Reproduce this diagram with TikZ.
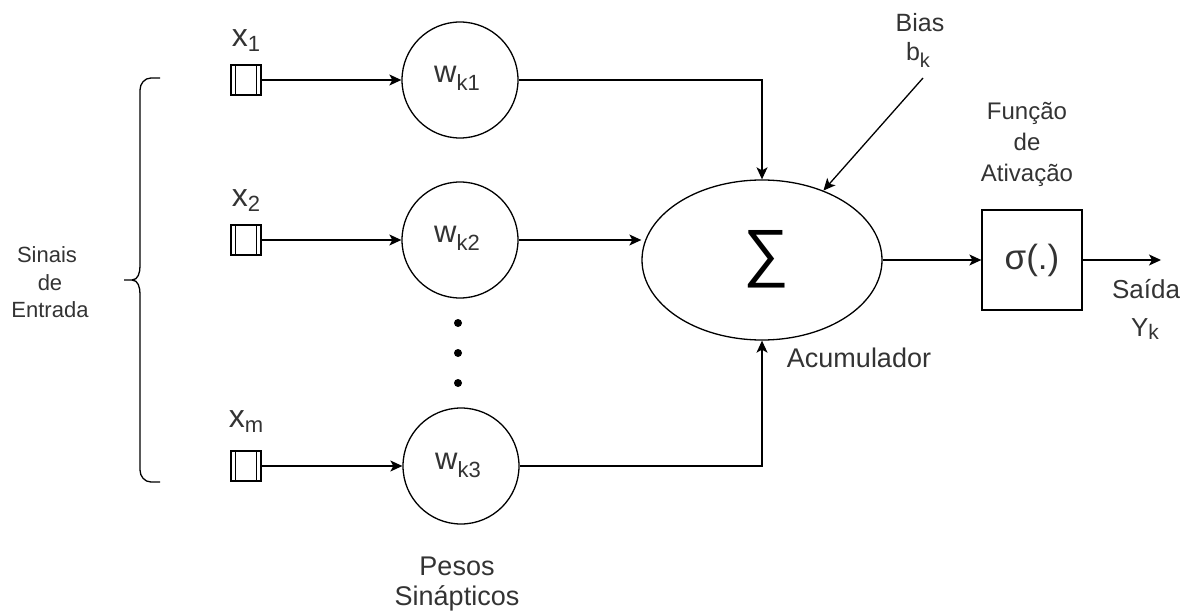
\documentclass[tikz,border=0pt]{standalone}
\usepackage{fontspec}
\setmainfont{Liberation Sans}
\usetikzlibrary{arrows.meta,shapes.geometric}
\definecolor{txtgray}{HTML}{333333}
\newcommand\fs[1]{\fontsize{#1}{#1}\selectfont}
\newcommand\lowsub[3]{\raisebox{-#2pt}{\fs{#1}#3}}
\begin{document}
\begin{tikzpicture}[x=1pt,y=-1pt,
  txt/.style={text=txtgray, inner sep=0pt, anchor=base},
  line/.style={line width=1.3pt, draw=black},
  arr/.style={line, -{Stealth[length=12pt,width=11pt,inset=3pt]}},
  inbox/.style={draw, line width=1.2pt, minimum size=30pt, inner sep=0pt,
    path picture={
      \draw[line width=1.2pt] ([xshift=4.5pt]path picture bounding box.north west) -- ([xshift=4.5pt]path picture bounding box.south west);
      \draw[line width=1.2pt] ([xshift=-4.5pt]path picture bounding box.north east) -- ([xshift=-4.5pt]path picture bounding box.south east);
    }},
  wnode/.style={circle, draw, line width=1.3pt, minimum size=116pt, inner sep=0pt},
]
\useasboundingbox (0,0) rectangle (1185,612);

% inputs
\node[inbox] (in1) at (246,80) {};
\node[inbox] (in2) at (246,240) {};
\node[inbox] (in3) at (246,466) {};
\node[txt] (lx1) at (246,47) {\fs{32}x\lowsub{22}{5}{1}};
\node[txt] (lx2) at (246,207) {\fs{32}x\lowsub{22}{5}{2}};
\node[txt] (lx3) at (246,427) {\fs{32}x\lowsub{22}{5}{m}};

% weights
\node[wnode] (w1) at (460,80) {};
\node[wnode] (w2) at (460,240) {};
\node[wnode] (w3) at (461,466) {};
\node[txt] (lw1) at (457,83) {\fs{31}w\lowsub{22}{8}{k1}};
\node[txt] (lw2) at (457,243) {\fs{31}w\lowsub{22}{8}{k2}};
\node[txt] (lw3) at (458,469) {\fs{31}w\lowsub{22}{8}{k3}};
\fill (458,323) circle (4);
\fill (458,353) circle (4);
\fill (458,383) circle (4);

% summation
\node[ellipse, draw, line width=1.3pt, minimum width=240pt, minimum height=160pt, inner sep=0pt] (sum) at (762,260) {};
\node[inner sep=0pt] (sig) at (766,259) {\fs{64}∑};
\node[txt] (lacc) at (859,367) {\fs{27}Acumulador};

% bias
\node[txt] (lbias) at (920,32) {\fs{25}Bias};
\node[txt] (lbk) at (918,61) {\fs{25}b\lowsub{20}{7}{k}};
\coordinate (bs) at (923,78);

% activation
\node[draw, line width=1.3pt, minimum width=100pt, minimum height=100pt, inner sep=0pt, text=txtgray] (act) at (1032,260) {\fs{35}σ(.)};
\node[txt] (lf1) at (1027,120) {\fs{24}Função};
\node[txt] (lf2) at (1027,151) {\fs{24}de};
\node[txt] (lf3) at (1027,182) {\fs{24}Ativação};
\coordinate (out) at (1161,260);
\node[txt] (ls1) at (1146,298) {\fs{26}Saída};
\node[txt] (ls2) at (1145,336) {\fs{26}Y\lowsub{21}{3}{k}};

% labels
\node[txt] (lp1) at (457,575) {\fs{27}Pesos};
\node[txt] (lp2) at (457,605) {\fs{27}Sinápticos};
\node[txt] (le1) at (47,262) {\fs{22}Sinais};
\node[txt] (le2) at (50,290) {\fs{22}de};
\node[txt] (le3) at (50,317) {\fs{22}Entrada};

% brace
\draw[line width=1.3pt] (160,78) -- (151,78) to[out=180,in=90] (140,90) -- (140,266)
  to[out=-90,in=0] (132,280) -- (124,280);
\draw[line width=1.3pt] (132,280) to[out=0,in=90] (140,294) -- (140,470)
  to[out=-90,in=180] (151,482) -- (160,482);

% connectors
\draw[arr] (in1) -- (w1);
\draw[arr] (in2) -- (w2);
\draw[arr] (in3) -- (w3);
\draw[arr] (w1) -| (sum);
\draw[arr] (w2) -- (w2 -| sum.west);
\draw[arr] (w3) -| (sum);
\draw[arr] (bs) -- (sum);
\draw[arr] (sum) -- (act);
\draw[arr] (act) -- (out);
\end{tikzpicture}
\end{document}
